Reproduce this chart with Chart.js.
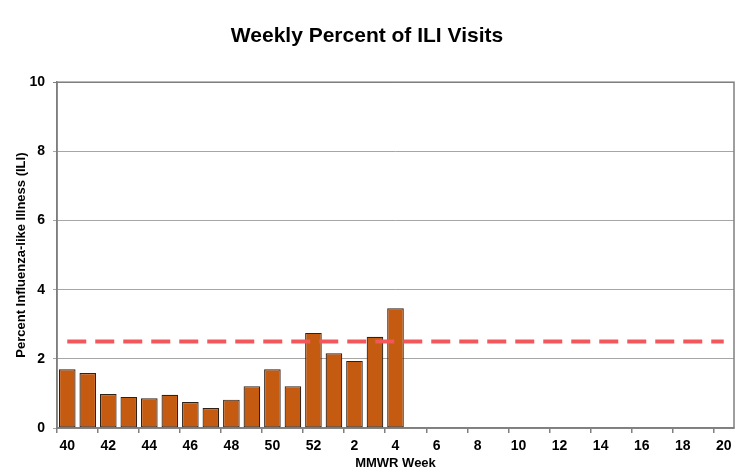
<!DOCTYPE html>
<html>
<head>
<meta charset="utf-8">
<script src="https://cdn.jsdelivr.net/npm/chart.js@4/dist/chart.umd.min.js"></script>
<style>
html,body{margin:0;padding:0;background:#fff;}
#wrap{width:741px;height:476px;position:relative;}
</style>
</head>
<body>
<div id="wrap"><canvas id="c" width="741" height="476"></canvas></div>
<script>
const weeks = ['40','41','42','43','44','45','46','47','48','49','50','51','52','1','2','3','4','5','6','7','8','9','10','11','12','13','14','15','16','17','18','19','20'];
const iliPercent = [1.70,1.59,0.98,0.90,0.86,0.96,0.75,0.58,0.82,1.21,1.70,1.21,2.75,2.16,1.94,2.64,3.46];
const baselineValue = 2.5;
const yTicks = [0,2,4,6,8,10];

const barData = weeks.map((w,i)=> i < iliPercent.length ? iliPercent[i] : null);
const baselineData = weeks.map(()=> baselineValue);

const FONT = '"Liberation Sans", Arial, Helvetica, sans-serif';

const borderPlugin = {
  id:'plotBorder',
  afterDraw(chart){
    const a = chart.chartArea, ctx = chart.ctx;
    ctx.save();
    ctx.strokeStyle = '#7f7f7f';
    ctx.lineWidth = 1.5;
    ctx.strokeRect(a.left, a.top, a.right-a.left, a.bottom-a.top);
    ctx.restore();
  }
};

new Chart(document.getElementById('c'), {
  data: {
    labels: weeks,
    datasets: [
      {
        type:'line',
        data: baselineData,
        borderColor:'#F2575B',
        borderWidth:4,
        borderDash:[19,9],
        pointRadius:0,
        fill:false,
        order:0
      },
      {
        type:'bar',
        data: barData,
        backgroundColor:'#C55A11',
        borderColor:'#2e2118',
        borderWidth:1.2,
        borderSkipped:false,
        barPercentage:0.81,
        categoryPercentage:1,
        order:1
      }
    ]
  },
  options: {
    responsive:false,
    animation:false,
    layout:{padding:{left:0,right:7,top:24,bottom:0}},
    plugins:{
      legend:{display:false},
      tooltip:{enabled:false},
      title:{
        display:true,
        text:'Weekly Percent of ILI Visits',
        color:'#000',
        font:{family:FONT,size:21,weight:'bold'},
        padding:{top:0,bottom:33}
      }
    },
    scales:{
      x:{
        offset:true,
        grid:{
          offset:true,
          drawOnChartArea:false,
          drawTicks:true,
          tickLength:5,
          color:(ctx)=> (ctx.index % 2 === 0 ? '#7f7f7f' : 'rgba(0,0,0,0)'),
          lineWidth:1.5
        },
        border:{display:true,color:'#7f7f7f',width:1.5},
        ticks:{
          autoSkip:false,
          maxRotation:0,
          padding:5,
          color:'#000',
          font:{family:FONT,size:14,weight:'bold'},
          callback:function(v,i){ return i % 2 === 0 ? this.getLabelForValue(v) : ''; }
        },
        title:{
          display:true,
          text:'MMWR Week',
          color:'#000',
          font:{family:FONT,size:13,weight:'bold'},
          padding:{top:0,bottom:5}
        },
        afterFit(scale){ scale.height = 48; }
      },
      y:{
        min:0,max:10,
        afterBuildTicks(scale){ scale.ticks = yTicks.map(v=>({value:v})); },
        grid:{
          color:(ctx)=> (ctx.tick && ctx.tick.value === 10 ? '#7f7f7f' : '#a6a6a6'),
          lineWidth:1,
          tickLength:4,
          drawTicks:true
        },
        border:{display:true,color:'#7f7f7f',width:1.5},
        ticks:{
          padding:8,
          color:'#000',
          font:{family:FONT,size:14,weight:'bold'}
        },
        title:{
          display:true,
          text:'Percent Influenza-like Illness (ILI)',
          color:'#000',
          font:{family:FONT,size:13,weight:'bold'},
          padding:{top:14,bottom:0}
        },
        afterFit(scale){ scale.width = 57; }
      }
    }
  },
  plugins:[borderPlugin]
});
</script>
</body>
</html>
